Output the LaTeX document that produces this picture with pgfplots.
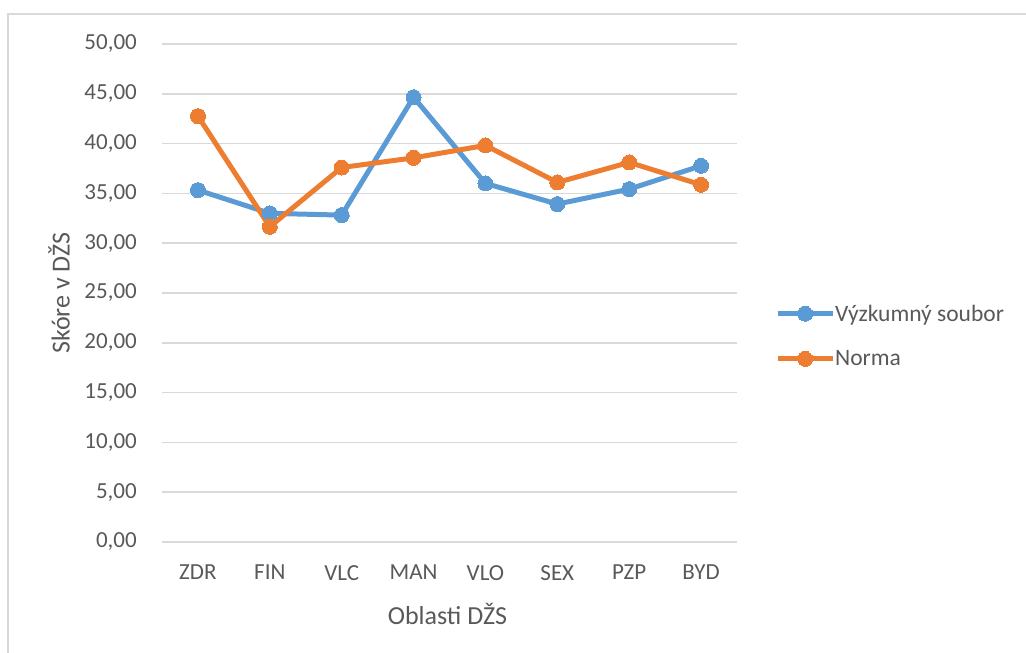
\documentclass[border=0pt]{standalone}
\usepackage{pgfplots}
\pgfplotsset{compat=1.18}
\usepackage{fontspec}
\setmainfont{Carlito}
\definecolor{cblue}{HTML}{5B9BD5}
\definecolor{corange}{HTML}{ED7D31}
\definecolor{cgrid}{HTML}{D9D9D9}
\definecolor{ctext}{HTML}{595959}
\begin{document}
\begin{tikzpicture}[x=1pt,y=1pt]
\path[use as bounding box] (0,0) rectangle (1026,653);
\draw[cgrid, line width=1.5pt] (8,0) -- (8,639) -- (1030,639);
\begin{axis}[
  at={(162pt,111pt)}, anchor=south west,
  scale only axis, width=575pt, height=498pt,
  xmin=-0.5, xmax=7.5, ymin=0, ymax=50,
  xtick={0,1,2,3,4,5,6,7},
  xticklabels={ZDR,FIN,VLC,MAN,VLO,SEX,PZP,BYD},
  ytick={0,5,10,15,20,25,30,35,40,45,50},
  axis line style={draw=none},
  tick style={draw=none},
  ymajorgrids,
  major grid style={cgrid, line width=1.5pt},
  /pgf/number format/.cd, fixed, fixed zerofill, precision=2, use comma, assume math mode=true,
  /pgfplots/.cd,
  yticklabel style={inner sep=0pt, anchor=east, xshift=-25pt, font=\fontsize{23}{27}\selectfont, text=ctext},
  xticklabel style={inner sep=0pt, anchor=north, yshift=-23pt, font=\fontsize{23}{27}\selectfont, text=ctext},
  xlabel={Oblasti DŽS},
  ylabel={Skóre v DŽS},
  every axis x label/.style={at={(axis description cs:0.4965,-0.1436)}, anchor=center, font=\fontsize{26}{30}\selectfont, text=ctext},
  every axis y label/.style={at={(axis description cs:-0.179,0.5)}, anchor=center, rotate=90, font=\fontsize{26}{30}\selectfont, text=ctext},
  legend style={at={(axis description cs:1.066,0.4137)}, anchor=west, draw=none, fill=none, inner sep=0pt,
    nodes={inner sep=0pt, anchor=west, text=ctext, font=\fontsize{23.5}{28}\selectfont}, row sep=28pt},
  legend cell align=left,
  legend image code/.code={\draw[mark repeat=2,mark phase=2,#1] plot coordinates {(0pt,0pt) (27.5pt,0pt) (55pt,0pt)};},
  clip=false,
]
\addplot[cblue, line width=5pt, mark=*, mark size=7.5pt, mark options={solid, fill=cblue, draw=cblue, line width=0pt}] coordinates {
(0,35.33) (1,33.0) (2,32.82) (3,44.66) (4,36.0) (5,33.93) (6,35.43) (7,37.77)};
\addlegendentry{Výzkumný soubor}
\addplot[corange, line width=5pt, mark=*, mark size=7.5pt, mark options={solid, fill=corange, draw=corange, line width=0pt}] coordinates {
(0,42.76) (1,31.65) (2,37.6) (3,38.57) (4,39.82) (5,36.1) (6,38.11) (7,35.87)};
\addlegendentry{Norma}
\end{axis}
\end{tikzpicture}
\end{document}
